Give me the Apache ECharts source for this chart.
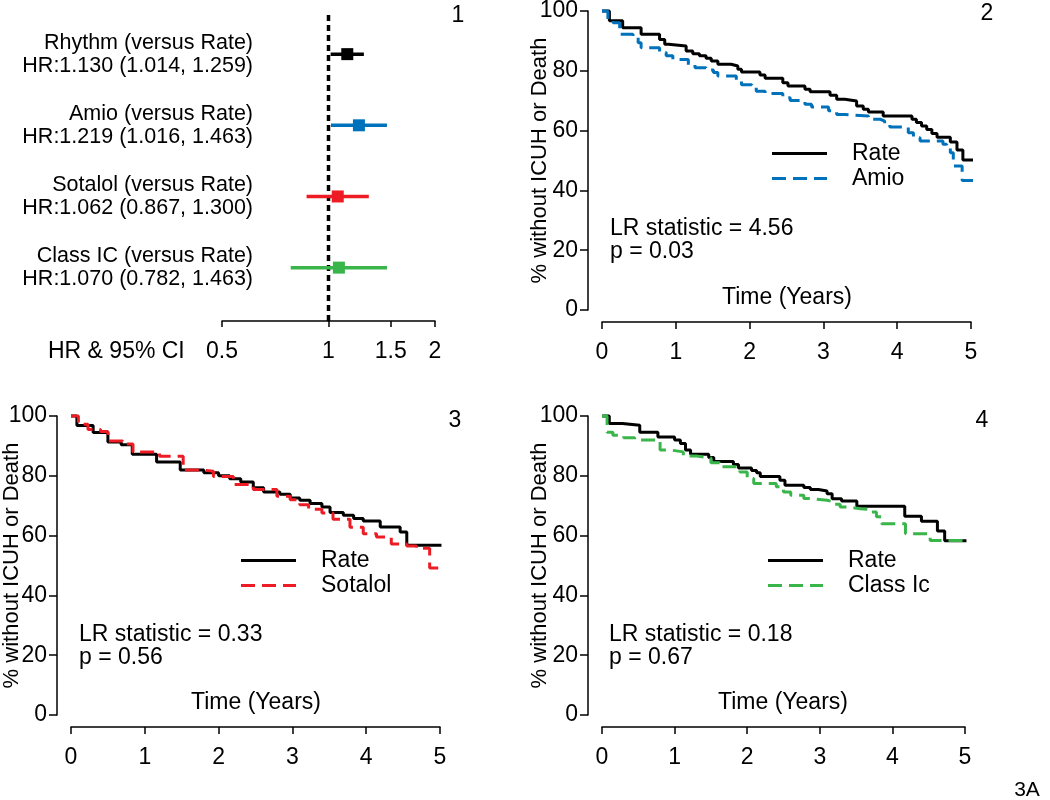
<!DOCTYPE html>
<html><head><meta charset="utf-8">
<script src="https://cdn.jsdelivr.net/npm/echarts@6/dist/echarts.min.js"></script>
<style>html,body{margin:0;padding:0;background:#fff}#c{width:1050px;height:800px}</style>
</head><body><div id="c"></div>
<script>
// ---------- data ----------
const forestNames = ['Rhythm (versus Rate)', 'Amio (versus Rate)', 'Sotalol (versus Rate)', 'Class IC (versus Rate)'];
const forestHR = [1.130, 1.219, 1.062, 1.070];
const forestLo = [1.014, 1.016, 0.867, 0.782];
const forestHi = [1.259, 1.463, 1.300, 1.463];
const hrTicks = [0.5, 1, 1.5, 2];
const refHR = 1;

const rate2 = [[0,100],[0.10,96.7],[0.28,94.4],[0.53,92.2],[0.78,90.5],[0.85,88.9],[0.90,88.3],[1.14,86.6],[1.23,85.7],[1.32,85.0],[1.41,84.2],[1.48,83.3],[1.57,82.2],[1.75,81.6],[1.84,80.5],[1.89,79.6],[2.14,78.6],[2.21,77.5],[2.45,76.0],[2.52,74.9],[2.75,73.8],[2.82,73.0],[3.09,71.8],[3.18,70.5],[3.29,69.9],[3.45,68.2],[3.54,67.1],[3.61,66.2],[3.81,64.9],[4.20,63.8],[4.26,62.7],[4.33,61.5],[4.40,60.4],[4.47,59.0],[4.54,57.8],[4.72,56.2],[4.81,53.5],[4.89,50.2],[5.03,50.2]];
const amio = [[0,100],[0.08,97.2],[0.15,96.1],[0.24,92.2],[0.42,91.1],[0.49,89.4],[0.53,87.7],[0.78,86.1],[0.87,85.0],[0.96,83.8],[1.17,82.0],[1.26,81.0],[1.41,80.3],[1.51,79.4],[1.57,78.3],[1.82,76.6],[1.89,75.3],[2.03,74.4],[2.09,73.2],[2.21,72.4],[2.45,71.0],[2.55,70.1],[2.75,68.8],[2.84,67.9],[3.07,66.6],[3.18,65.4],[3.29,64.9],[3.61,63.8],[3.77,63.2],[3.83,62.1],[3.90,61.2],[4.15,59.3],[4.22,57.6],[4.31,56.5],[4.62,55.4],[4.67,54.3],[4.72,52.6],[4.76,48.2],[4.88,43.3],[5.03,43.3]];

const rate3 = [[0,100],[0.08,96.8],[0.30,94.5],[0.50,91.3],[0.68,90.4],[0.83,87.2],[1.16,84.6],[1.48,81.9],[1.80,81.0],[2.00,80.0],[2.15,79.0],[2.30,77.9],[2.47,76.0],[2.61,74.6],[2.83,73.8],[2.97,72.6],[3.10,71.8],[3.24,70.7],[3.40,69.6],[3.51,67.7],[3.69,66.8],[3.83,65.7],[3.96,64.9],[4.19,62.9],[4.46,61.2],[4.55,56.8],[5.02,56.8]];
const sotalol = [[0,100],[0.10,97.2],[0.23,95.5],[0.40,94.8],[0.50,91.6],[0.70,90.6],[0.84,88.0],[1.20,86.5],[1.52,81.9],[1.80,81.5],[1.93,79.8],[2.20,77.1],[2.47,75.4],[2.79,73.2],[2.97,72.0],[3.10,70.3],[3.22,68.8],[3.40,67.6],[3.55,65.5],[3.78,62.8],[3.96,60.6],[4.14,59.5],[4.34,57.2],[4.55,56.5],[4.68,55.8],[4.86,49.2],[5.02,49.2]];

const rate4 = [[0,100],[0.10,97.5],[0.28,96.9],[0.52,94.6],[0.77,93.0],[1.00,92.0],[1.08,90.8],[1.15,88.6],[1.22,87.2],[1.47,86.1],[1.54,84.8],[1.81,83.8],[1.88,82.6],[2.06,81.8],[2.13,81.0],[2.18,79.8],[2.45,78.5],[2.52,76.8],[2.78,76.1],[2.87,75.4],[2.98,74.9],[3.10,74.0],[3.17,72.3],[3.30,71.6],[3.51,69.8],[4.17,66.5],[4.40,64.8],[4.62,61.5],[4.72,58.3],[5.02,58.3]];
const classIc = [[0,100],[0.07,94.6],[0.15,93.6],[0.30,92.7],[0.45,92.0],[0.80,88.6],[0.95,88.0],[1.12,86.6],[1.30,86.0],[1.50,84.4],[1.62,83.0],[1.90,81.3],[2.00,79.1],[2.09,77.4],[2.40,76.3],[2.50,74.6],[2.60,73.5],[2.78,72.4],[2.87,71.8],[3.10,71.3],[3.19,70.5],[3.28,69.6],[3.37,69.0],[3.56,68.7],[3.69,67.9],[3.78,66.3],[3.85,64.0],[4.18,60.6],[4.52,58.4],[5.02,58.4]];

const lrStats = ['4.56', '0.33', '0.18'];
const pValues = ['0.03', '0.56', '0.67'];
const panelLabels = ['1', '2', '3', '4'];
const figLabel = '3A';
const compNames = ['Amio', 'Sotalol', 'Class Ic'];

// ---------- styles ----------
const FONT = "'Liberation Sans', Arial, Helvetica, sans-serif";
const FS = 23;       // KM panels & axis texts
const FS_ROW = 21.5; // forest row labels
const FS_YT = 22;    // y axis title
const forestColors = ['#000000', '#0072bc', '#ed1c24', '#39b54a'];
const compColors = ['#0072bc', '#ed1c24', '#39b54a'];
const ICON_SOLID = 'path://M0,0H55V3.2H0Z';
const ICON_DASH = 'path://M0,0H14V3.2H0Z M21,0H35V3.2H21Z M42,0H55V3.2H42Z';

const chart = echarts.init(document.getElementById('c'), null, {renderer: 'canvas'});

const kmGrids = [
  {left: 602, top: 11, width: 369, height: 299},
  {left: 71, top: 416, width: 369, height: 299},
  {left: 602, top: 416, width: 363, height: 299}
];
const yNameGaps = [37, 34, 37];

const grids = [{left: 222, top: 15, width: 213, height: 306}].concat(kmGrids)
  .map(g => Object.assign({outerBoundsMode: 'none', containLabel: false}, g));

const axisTxt = {fontSize: FS, fontFamily: FONT, color: '#000'};

const xAxes = [{
  gridIndex: 0, type: 'value', min: Math.log(hrTicks[0]), max: Math.log(hrTicks[hrTicks.length - 1]),
  axisLine: {show: true, onZero: false, lineStyle: {color: '#000', width: 1.5}},
  axisTick: {show: true, length: 6, lineStyle: {color: '#000', width: 1.5}, customValues: hrTicks.map(Math.log)},
  axisLabel: Object.assign({margin: 19, customValues: hrTicks.map(Math.log),
    formatter: v => { let best = hrTicks[0]; hrTicks.forEach(t => { if (Math.abs(Math.log(t) - v) < Math.abs(Math.log(best) - v)) best = t; }); return String(best); }}, axisTxt),
  splitLine: {show: false}
}];
const yAxes = [{
  gridIndex: 0, type: 'value', inverse: true, min: -0.55, max: 3.75,
  axisLine: {show: false, onZero: false}, axisTick: {show: false}, splitLine: {show: false},
  axisLabel: {margin: -31, customValues: forestNames.map((n, i) => i), lineHeight: 23, padding: [15, 0, 0, 0], align: 'right',
    fontSize: FS_ROW, fontFamily: FONT, color: '#000',
    formatter: v => forestNames[v] + '\nHR:' + forestHR[v].toFixed(3) + ' (' + forestLo[v].toFixed(3) + ', ' + forestHi[v].toFixed(3) + ')'}
}];

kmGrids.forEach((g, k) => {
  xAxes.push({
    gridIndex: k + 1, type: 'value', min: 0, max: 5, interval: 1, offset: 12,
    axisLine: {show: true, onZero: false, lineStyle: {color: '#000', width: 1.5}},
    axisTick: {show: true, length: 7, lineStyle: {color: '#000', width: 1.5}},
    axisLabel: Object.assign({margin: 19}, axisTxt),
    splitLine: {show: false}
  });
  yAxes.push({
    gridIndex: k + 1, type: 'value', min: 0, max: 100, interval: 20, offset: 14,
    name: '% without ICUH or Death', nameLocation: 'middle', nameRotate: 90, nameGap: yNameGaps[k],
    nameMoveOverlap: false,
    nameTextStyle: {fontSize: FS_YT, fontFamily: FONT, color: '#000'},
    axisLine: {show: true, onZero: false, lineStyle: {color: '#000', width: 1.5}},
    axisTick: {show: true, length: 8, lineStyle: {color: '#000', width: 1.5}},
    axisLabel: Object.assign({margin: 10}, axisTxt),
    splitLine: {show: false}
  });
});

const series = [];
// reference line HR = 1
series.push({type: 'line', xAxisIndex: 0, yAxisIndex: 0, symbol: 'none', clip: false, silent: true,
  data: [[Math.log(refHR), -0.55], [Math.log(refHR), 3.75]],
  lineStyle: {color: '#000', width: 3.5, type: [6, 4]}});
forestNames.forEach((n, i) => {
  series.push({type: 'line', xAxisIndex: 0, yAxisIndex: 0, symbol: 'none', silent: true,
    data: [[Math.log(forestLo[i]), i], [Math.log(forestHi[i]), i]],
    lineStyle: {color: forestColors[i], width: 3.5}});
});
series.push({type: 'scatter', xAxisIndex: 0, yAxisIndex: 0, symbol: 'rect', symbolSize: 12, silent: true,
  data: forestHR.map((h, i) => ({value: [Math.log(h), i], itemStyle: {color: forestColors[i], opacity: 1}}))});

const rates = [rate2, rate3, rate4];
const comps = [amio, sotalol, classIc];
rates.forEach((r, k) => {
  series.push({name: 'Rate', type: 'line', step: 'end', xAxisIndex: k + 1, yAxisIndex: k + 1, symbol: 'none', clip: false,
    data: r, lineStyle: {color: '#000', width: 3}, itemStyle: {color: '#000'}});
  series.push({name: compNames[k], type: 'line', step: 'end', xAxisIndex: k + 1, yAxisIndex: k + 1, symbol: 'none', clip: false,
    data: comps[k], lineStyle: {color: compColors[k], width: 3, type: [14, 7]}, itemStyle: {color: compColors[k]}});
});

const legendPos = [[772, 142], [241, 549], [768, 549]];
const legends = legendPos.map((p, k) => ({
  left: p[0], top: p[1], orient: 'vertical', selectedMode: false,
  data: [{name: 'Rate', icon: ICON_SOLID}, {name: compNames[k], icon: ICON_DASH}],
  itemWidth: 55, itemHeight: 3.2, itemGap: 2, padding: 0,
  textStyle: {fontSize: FS, fontFamily: FONT, color: '#000', lineHeight: 23, padding: [0, 0, 0, 20]}
}));

const txt = (x, y, text, align, size) => ({type: 'text', x: x, y: y, silent: true,
  style: {text: text, fontSize: size || FS, fontFamily: FONT, fill: '#000', align: align || 'left', verticalAlign: 'middle', lineHeight: 23}});

const graphic = [
  txt(458, 16, panelLabels[0], 'center'),
  txt(987, 14, panelLabels[1], 'center'),
  txt(455, 421, panelLabels[2], 'center'),
  txt(982, 421, panelLabels[3], 'center'),
  txt(1027, 790, figLabel, 'center', 21),
  txt(48, 352, 'HR & 95% CI', 'left'),
  txt(610, 240, 'LR statistic = ' + lrStats[0] + '\np = ' + pValues[0], 'left'),
  txt(79, 646, 'LR statistic = ' + lrStats[1] + '\np = ' + pValues[1], 'left'),
  txt(609, 646, 'LR statistic = ' + lrStats[2] + '\np = ' + pValues[2], 'left'),
  txt(787, 298, 'Time (Years)', 'center'),
  txt(256, 703, 'Time (Years)', 'center'),
  txt(783, 703, 'Time (Years)', 'center')
];

chart.setOption({
  animation: false,
  backgroundColor: '#fff',
  grid: grids,
  xAxis: xAxes,
  yAxis: yAxes,
  legend: legends,
  series: series,
  graphic: graphic
});
</script>
</body></html>
